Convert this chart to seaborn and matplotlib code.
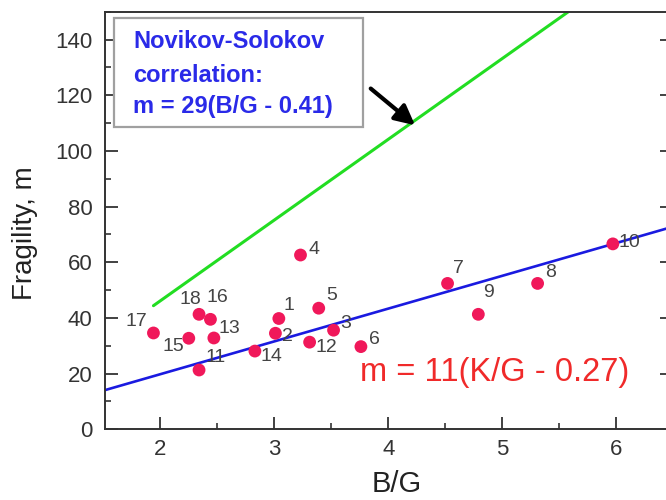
import matplotlib
matplotlib.use("Agg")
import matplotlib.pyplot as plt
from matplotlib.ticker import MultipleLocator
import seaborn as sns
import pandas as pd

# ---- data ----
point_ids = ["1", "2", "3", "4", "5", "6", "7", "8", "9", "10",
             "11", "12", "13", "14", "15", "16", "17", "18"]
bg_ratio = [3.04, 3.01, 3.52, 3.23, 3.39, 3.76, 4.52, 5.31, 4.79, 5.97,
            2.34, 3.31, 2.47, 2.83, 2.25, 2.44, 1.94, 2.34]
fragility = [39.8, 34.5, 35.6, 62.6, 43.5, 29.7, 52.4, 52.4, 41.3, 66.6,
             21.3, 31.3, 32.8, 28.1, 32.7, 39.5, 34.6, 41.3]

# fitted line (blue) and Novikov-Sokolov correlation (green)
fit_x = [1.50, 6.50]
fit_y = [13.9, 72.8]
ns_x = [1.94, 5.58]
ns_y = [44.4, 150.0]

box_lines = ["Novikov-Solokov", "correlation:", "m = 29(B/G - 0.41)"]
fit_label = "m = 11(K/G - 0.27)"
x_label = "B/G"
y_label = "Fragility, m"
x_ticks = [2, 3, 4, 5, 6]
y_ticks = [0, 20, 40, 60, 80, 100, 120, 140]

# label offsets (points) for the numbered markers
label_offsets = {
    "1": (7, 9), "2": (9, -2), "3": (9, 5), "4": (10, 4), "5": (9, 9),
    "6": (10, 5), "7": (8, 11), "8": (9, 8), "9": (7, 16), "10": (12, 1),
    "11": (12, 9), "12": (12, -4), "13": (11, 7), "14": (12, -4),
    "15": (-11, -6), "16": (5, 16), "17": (-12, 8), "18": (-6, 11),
}

df = pd.DataFrame({"id": point_ids, "bg": bg_ratio, "m": fragility})
fit_df = pd.DataFrame({"x": fit_x, "y": fit_y})
ns_df = pd.DataFrame({"x": ns_x, "y": ns_y})

sns.set_theme(style="white")
plt.rcParams["font.family"] = ["Liberation Sans", "DejaVu Sans"]

W, H = 666, 500
fig = plt.figure(figsize=(W / 100, H / 100), dpi=100)
left_px, right_px, top_px, bottom_px = 105, 672, 11.7, 429.3
ax = fig.add_axes([left_px / W, 1 - bottom_px / H,
                   (right_px - left_px) / W, (bottom_px - top_px) / H])

sns.lineplot(data=ns_df, x="x", y="y", ax=ax, color="#22dd22", linewidth=2.2)
sns.lineplot(data=fit_df, x="x", y="y", ax=ax, color="#1a1ae0", linewidth=1.9)
sns.scatterplot(data=df, x="bg", y="m", ax=ax, color="#f0185a", s=85,
                edgecolor="none", zorder=5)

for pid, xv, yv in zip(point_ids, bg_ratio, fragility):
    dx, dy = label_offsets[pid]
    ax.annotate(pid, (xv, yv), xytext=(dx, dy), textcoords="offset points",
                ha="center", va="center", fontsize=14, color="#444444",
                zorder=6)

ax.set_xlim(1.515, 6.489)
ax.set_ylim(0, 150)
ax.set_xticks(x_ticks)
ax.set_yticks(y_ticks)
ax.xaxis.set_minor_locator(MultipleLocator(0.5))
ax.yaxis.set_minor_locator(MultipleLocator(10))
ax.tick_params(axis="both", which="major", direction="in", length=9,
               width=1.3, color="#333333", labelsize=16,
               labelcolor="#333333")
ax.tick_params(axis="x", which="major", pad=7)
ax.tick_params(axis="y", which="major", pad=9)
ax.tick_params(axis="both", which="minor", direction="in", length=4.5,
               width=1.2, color="#333333")
ax.tick_params(axis="y", which="both", right=True, left=True)
ax.tick_params(axis="x", which="both", bottom=True, top=False)

for sp in ax.spines.values():
    sp.set_color("#333333")
    sp.set_linewidth(1.4)

ax.set_xlabel(x_label, fontsize=21, color="#222222")
ax.set_ylabel(y_label, fontsize=20, color="#222222")
ax.xaxis.set_label_coords(0.515, -0.098)
ax.yaxis.set_label_coords(-0.118, 0.47)

# correlation box
axw = right_px - left_px
axh = bottom_px - top_px
bx0, bx1, by0, by1 = 114.3, 363.3, 18.3, 126.7
rect = plt.Rectangle(((bx0 - left_px) / axw, (bottom_px - by1) / axh),
                     (bx1 - bx0) / axw, (by1 - by0) / axh,
                     transform=ax.transAxes, facecolor="white",
                     edgecolor="#a0a0a0", linewidth=1.6, zorder=7)
ax.add_patch(rect)
for line, ypx in zip(box_lines, [42, 75, 107]):
    ax.text((133 - left_px) / axw, (bottom_px - ypx) / axh, line,
            transform=ax.transAxes, ha="left", va="center", fontsize=17,
            fontweight="bold", color="#2a2ae8", zorder=8)

ax.text(4.93, 20.5, fit_label, ha="center", va="center", fontsize=23.5,
        color="#f02a2a", zorder=8)

ax.annotate("", xy=(4.235, 109.2), xytext=(3.846, 122.4),
            arrowprops=dict(arrowstyle="-|>,head_length=1.0,head_width=0.5",
                            color="black", lw=3.0, shrinkA=0, shrinkB=0),
            zorder=8)

fig.savefig("out.png", dpi=100)
